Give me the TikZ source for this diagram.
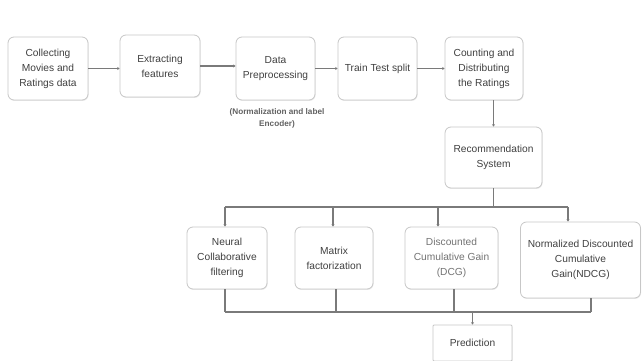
\documentclass[tikz,border=0pt]{standalone}
\usepackage{fontspec}
\setmainfont{Liberation Sans}
\usepackage{tikz}
\usetikzlibrary{arrows.meta,positioning,shadows}

\begin{document}
\begin{tikzpicture}[x=1pt, y=-1pt,
  box/.style={draw=black!22, line width=0.8pt, rounded corners=6pt,
    fill=white, align=center, text=black!75, inner sep=2pt,
    font=\fontsize{10.2}{15}\selectfont,
    drop shadow={shadow xshift=0.6pt, shadow yshift=-0.9pt, opacity=0.18}},
  link/.style={draw=black!52, line width=1.4pt},
  arr/.style={link, -{Stealth[length=2.4pt, width=3pt]}}]
  % Canvas of the reference
  \useasboundingbox (0,0) rectangle (642,361);

  % Top row of pipeline steps
  \node[box, minimum width=80, minimum height=63] (collect) at (48,68.5)
    {Collecting\\Movies and\\Ratings data};
  \node[box, minimum width=80, minimum height=62] (extract) at (160,66)
    {Extracting\\features};
  \node[box, minimum width=79, minimum height=63] (preproc) at (275.5,68.5)
    {Data\\Preprocessing};
  \node[box, minimum width=79, minimum height=63] (split) at (377.5,68.5)
    {Train Test split};
  \node[box, minimum width=78, minimum height=63] (count) at (484,68.5)
    {Counting and\\Distributing\\the Ratings};

  % Note under the preprocessing step
  \node[font=\fontsize{8.2}{12}\selectfont\bfseries, text=black!62,
    align=center] (prenote) at (277,118)
    {(Normalization and label\\Encoder)};

  % Recommender
  \node[box, minimum width=97, minimum height=61] (recsys) at (493.5,157.5)
    {Recommendation\\System};

  % Models and metrics
  \node[box, minimum width=80, minimum height=62] (ncf) at (227,258)
    {Neural\\Collaborative\\filtering};
  \node[box, minimum width=78, minimum height=62] (mf) at (334,258)
    {Matrix\\factorization};
  \node[box, minimum width=93, minimum height=62, text=black!55] (dcg) at (451.5,258)
    {Discounted\\Cumulative Gain\\(DCG)};
  \node[box, minimum width=120, minimum height=76] (ndcg) at (580.5,260)
    {Normalized Discounted\\Cumulative\\Gain(NDCG)};

  % Output
  \node[box, rounded corners=1pt, minimum width=79, minimum height=36] (pred)
    at (472.5,343) {Prediction};

  % Horizontal links along the top row
  \draw[arr] (collect.east) -- (collect.east -| extract.west);
  \draw[arr] (extract.east) -- (extract.east -| preproc.west);
  \draw[arr] (preproc.east) -- (preproc.east -| split.west);
  \draw[arr] (split.east) -- (split.east -| count.west);
  \draw[arr] (count.south -| recsys.north) -- (recsys.north);

  % Upper bus and its drops
  \coordinate (dA) at (225,207);
  \coordinate (dB) at (333,207);
  \coordinate (dC) at (438,207);
  \coordinate (dD) at (568,207);
  \draw[link] (recsys.south) -- (recsys.south |- dA);
  \draw[link] (dA) -- (dD);
  \draw[arr] (dA) -- (dA |- ncf.north);
  \draw[arr] (dB) -- (dB |- mf.north);
  \draw[arr] (dC) -- (dC |- dcg.north);
  \draw[arr] (dD) -- (dD |- ndcg.north);

  % Lower bus into the prediction
  \coordinate (uA) at (225,312);
  \coordinate (uB) at (336,312);
  \coordinate (uC) at (454,312);
  \coordinate (uD) at (591,312);
  \draw[link] (uA |- ncf.south) -- (uA);
  \draw[link] (uB |- mf.south) -- (uB);
  \draw[link] (uC |- dcg.south) -- (uC);
  \draw[link] (uD |- ndcg.south) -- (uD);
  \draw[link] (uA) -- (uD);
  \draw[arr] (uA -| pred.north) -- (pred.north);
\end{tikzpicture}
\end{document}
